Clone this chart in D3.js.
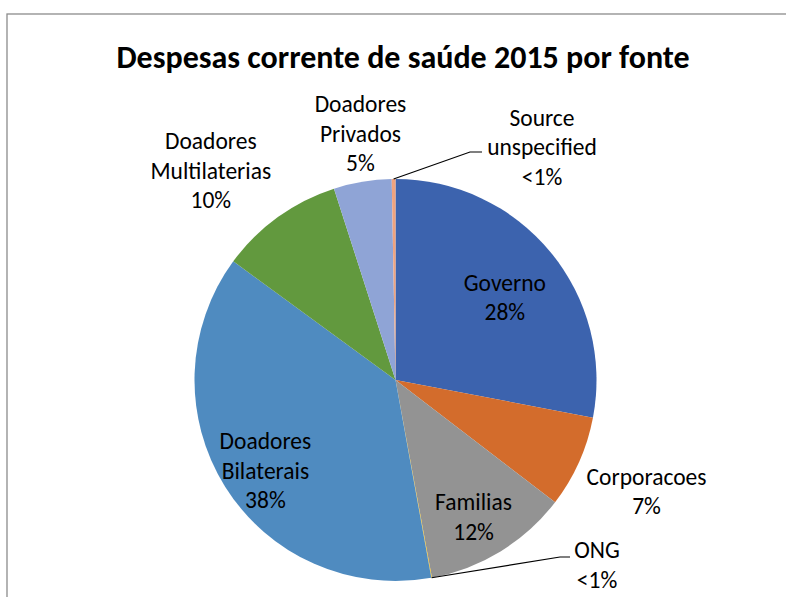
<!DOCTYPE html>
<html>
<head>
<meta charset="utf-8">
<script src="https://cdn.jsdelivr.net/npm/d3@7"></script>
<style>
  body { margin: 0; background: #fff; }
  text { font-family: Calibri, Carlito, "Open Sans", sans-serif; fill: #000; }
</style>
</head>
<body>
<svg id="chart" width="786" height="597"></svg>
<script>
// data (percent of total, clockwise from 12 o'clock)
const categories = ["Governo", "Corporacoes", "Familias", "ONG", "Doadores Bilaterais",
    "Doadores Multilaterias", "Doadores Privados", "Source unspecified"];
const values = [28.0, 7.4, 11.7, 0.05, 37.9, 10.0, 4.65, 0.3];
const pctLabels = ["28%", "7%", "12%", "<1%", "38%", "10%", "5%", "<1%"];
const colors = ["#3c63ae", "#d36c2c", "#939393", "#ffc000", "#4f8bc0", "#62993e", "#8fa4d6", "#f0a37e"];

// label layout: lines per label, polar placement around the centroid
const labelLines = [["Governo"], ["Corporacoes"], ["Familias"], ["ONG"], ["Doadores", "Bilaterais"],
    ["Doadores", "Multilaterias"], ["Doadores", "Privados"], ["Source", "unspecified"]];
const labelRadius = [138, 275, 157, 0, 157, 278, 250, 0];
const labelNudge = [[3, 5], [0, -1], [-4, 3], [0, 0], [3, 7], [-22, 16], [6, 0], [0, 0]];
const calloutAnchor = {3: [597, 565], 7: [542, 147]};

function drawPie() {
    const svg = d3.select("#chart");
    const cx = 395.5, cy = 380, r = 201;
    const lineH = 29.5;

    svg.append("rect")
        .attr("x", 7).attr("y", 14)
        .attr("width", 790).attr("height", 600)
        .attr("fill", "none")
        .attr("stroke", "#8c8c8c")
        .attr("stroke-width", 1.3);

    svg.append("text")
        .attr("x", 403).attr("y", 68)
        .attr("text-anchor", "middle")
        .style("font-size", "32px")
        .style("font-weight", "bold")
        .text("Despesas corrente de saúde 2015 por fonte");

    const data = categories.map((c, i) => ({name: c, value: values[i], i: i}));
    const pie = d3.pie().sort(null).value((d) => d.value);
    const arcs = pie(data);
    const arc = d3.arc().innerRadius(0).outerRadius(r);

    const g = svg.append("g").attr("transform", `translate(${cx}, ${cy})`);

    g.selectAll(".slice")
        .data(arcs)
        .join("path")
        .attr("class", "slice")
        .attr("fill", (d) => colors[d.data.i])
        .attr("d", arc);

    // labels
    arcs.forEach((a) => {
        const i = a.data.i;
        const lines = labelLines[i].concat([pctLabels[i]]);
        let x, y;
        if (calloutAnchor[i]) {
            x = calloutAnchor[i][0] - cx;
            y = calloutAnchor[i][1] - cy;
            const mid = (a.startAngle + a.endAngle) / 2;
            const sx = Math.sin(mid) * r, sy = -Math.cos(mid) * r;
            const ex = i === 3 ? x - 37 : x - 72;
            const ey = i === 3 ? y - 8 : y + 5;
            const hx = i === 3 ? x - 27 : x - 60;
            g.append("path")
                .attr("d", `M${sx},${sy}L${ex},${ey}L${hx},${ey}`)
                .attr("fill", "none")
                .attr("stroke", "#000")
                .attr("stroke-width", 1.2);
        } else {
            const la = d3.arc().innerRadius(labelRadius[i]).outerRadius(labelRadius[i]);
            [x, y] = la.centroid(a);
            x += labelNudge[i][0];
            y += labelNudge[i][1];
        }
        const t = g.append("text")
            .attr("text-anchor", "middle")
            .style("font-size", "23.5px");
        lines.forEach((ln, k) => {
            t.append("tspan")
                .attr("x", x)
                .attr("y", y + (k - (lines.length - 1) / 2) * lineH)
                .attr("dy", "0.35em")
                .text(ln);
        });
    });
}

drawPie();
</script>
</body>
</html>
